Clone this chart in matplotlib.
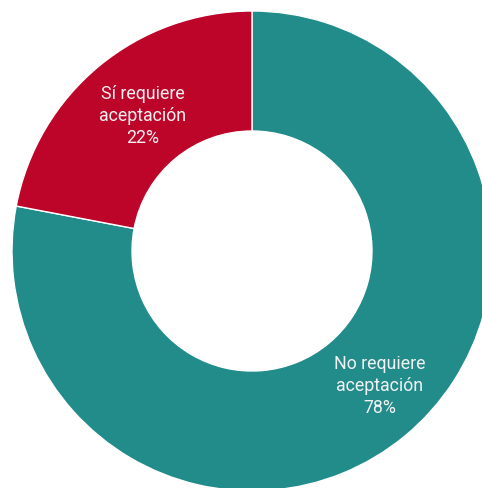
import matplotlib.pyplot as plt

# data
labels = ['No requiere\naceptación', 'Sí requiere\naceptación']
shares = [78, 22]
colors = ['#218c8a', '#bd0429']

fig = plt.figure(figsize=(4.82, 4.89), dpi=100)
# donut is partly cut off at the right and bottom edges
ax = fig.add_axes([12 / 482, -3 / 489, 480 / 482, 480 / 489])

wedges, _ = ax.pie(shares, colors=colors, startangle=90, counterclock=False,
                   radius=1.0, wedgeprops=dict(width=0.5, edgecolor='white', linewidth=1))

# label positions (data coords)
label_pos = [(0.533, -0.558), (-0.454, 0.567)]
for lab, val, (x, y) in zip(labels, shares, label_pos):
    ax.text(x, y, f'{lab}\n{val}%', ha='center', va='center', color='#f2f2f2',
            fontsize=12.8, family='Roboto', linespacing=1.3)

ax.set_xlim(-1, 1)
ax.set_ylim(-1, 1)
ax.set_aspect('equal')
ax.axis('off')

fig.savefig('out.png', dpi=100)
